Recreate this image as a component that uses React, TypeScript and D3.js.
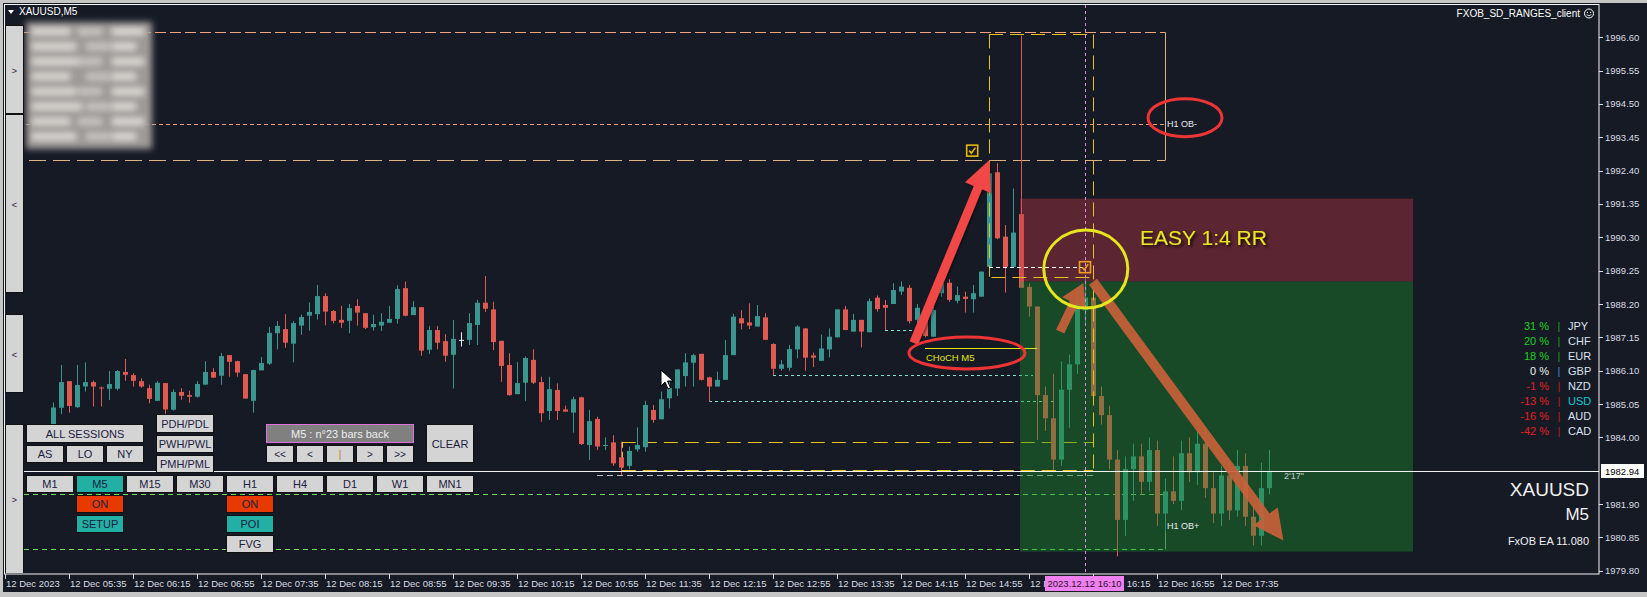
import React from 'react';
import * as d3 from 'd3';

const W = 1647;
const H = 597;

// ---------- DATA ----------
const priceTicks = [1996.6, 1995.55, 1994.5, 1993.45, 1992.4, 1991.35, 1990.3, 1989.25, 1988.2, 1987.15, 1986.1, 1985.05, 1984.0, 1981.9, 1980.85, 1979.8];
const timeLabels = ['12 Dec 2023', '12 Dec 05:35', '12 Dec 06:15', '12 Dec 06:55', '12 Dec 07:35', '12 Dec 08:15', '12 Dec 08:55', '12 Dec 09:35', '12 Dec 10:15', '12 Dec 10:55', '12 Dec 11:35', '12 Dec 12:15', '12 Dec 12:55', '12 Dec 13:35', '12 Dec 14:15', '12 Dec 14:55', '12 Dec 15:35', '12 Dec 16:15', '12 Dec 16:55', '12 Dec 17:35'];
const firstLabelBar = -5; // bar index of the "12 Dec 2023" label
const labelStep = 8;

// [open, high, low, close] for bars 1..153 (M5)
const candles: [number, number, number, number][] = [
  [1984.25, 1985.10, 1984.10, 1984.94], [1984.93, 1986.28, 1984.73, 1985.74], [1985.77, 1985.77, 1984.78, 1984.99], [1984.95, 1986.28, 1984.93, 1985.65],
  [1985.60, 1986.36, 1985.44, 1985.74], [1985.74, 1985.79, 1984.97, 1985.60], [1985.57, 1985.60, 1984.97, 1985.54], [1985.53, 1986.09, 1985.18, 1985.68],
  [1985.53, 1986.12, 1985.48, 1986.09], [1986.06, 1986.47, 1985.78, 1985.97], [1985.96, 1986.02, 1985.60, 1985.78], [1985.77, 1985.86, 1985.56, 1985.60],
  [1985.55, 1985.66, 1985.07, 1985.21], [1985.15, 1985.77, 1985.15, 1985.72], [1985.71, 1985.71, 1984.70, 1984.88], [1984.87, 1985.51, 1984.84, 1985.43],
  [1985.43, 1985.55, 1985.18, 1985.31], [1985.33, 1985.47, 1985.09, 1985.28], [1985.28, 1985.77, 1985.25, 1985.68], [1985.66, 1986.40, 1985.66, 1986.06],
  [1986.06, 1986.18, 1985.88, 1985.88], [1985.94, 1986.66, 1985.66, 1986.56], [1986.59, 1986.59, 1985.91, 1986.38], [1986.40, 1986.41, 1985.91, 1986.04],
  [1985.99, 1985.99, 1985.22, 1985.22], [1985.15, 1986.13, 1984.78, 1986.12], [1986.11, 1986.53, 1986.11, 1986.34], [1986.32, 1987.47, 1986.28, 1987.29],
  [1987.28, 1987.66, 1986.77, 1987.51], [1987.41, 1987.88, 1986.82, 1986.98], [1986.95, 1987.66, 1986.36, 1987.60], [1987.52, 1987.87, 1987.23, 1987.79],
  [1987.83, 1988.25, 1987.36, 1987.95], [1987.88, 1988.80, 1987.71, 1988.45], [1988.45, 1988.54, 1987.53, 1987.96], [1987.98, 1988.01, 1987.59, 1987.67],
  [1987.70, 1988.14, 1987.45, 1987.61], [1987.67, 1988.20, 1987.28, 1988.07], [1988.14, 1988.35, 1987.52, 1987.93], [1987.91, 1987.91, 1987.41, 1987.45],
  [1987.47, 1987.86, 1987.36, 1987.57], [1987.52, 1987.91, 1987.35, 1987.64], [1987.61, 1988.14, 1987.61, 1987.73], [1987.73, 1988.79, 1987.58, 1988.67],
  [1988.70, 1988.91, 1987.81, 1987.83], [1987.85, 1988.29, 1987.85, 1988.10], [1988.10, 1988.10, 1986.57, 1986.73], [1986.76, 1987.51, 1986.63, 1987.38],
  [1987.38, 1987.51, 1986.77, 1986.98], [1987.03, 1987.25, 1986.38, 1986.57], [1986.60, 1987.70, 1985.54, 1987.10], [1987.07, 1987.31, 1986.86, 1987.07],
  [1987.07, 1987.91, 1986.91, 1987.60], [1987.54, 1988.33, 1986.91, 1988.24], [1988.24, 1989.08, 1987.95, 1988.05], [1988.03, 1988.27, 1986.75, 1987.00],
  [1987.04, 1987.04, 1985.75, 1986.25], [1986.28, 1986.65, 1985.31, 1985.33], [1985.36, 1986.37, 1985.36, 1985.71], [1985.72, 1986.55, 1985.15, 1986.50],
  [1986.44, 1986.77, 1985.68, 1985.72], [1985.74, 1985.91, 1984.49, 1984.76], [1984.83, 1985.91, 1984.55, 1985.52], [1985.49, 1985.70, 1984.55, 1984.83],
  [1984.88, 1985.00, 1984.81, 1984.81], [1984.78, 1985.28, 1984.15, 1985.20], [1985.26, 1985.28, 1983.76, 1983.79], [1983.76, 1984.86, 1983.29, 1984.51],
  [1984.58, 1984.65, 1983.60, 1983.71], [1983.73, 1984.00, 1983.60, 1983.76], [1983.84, 1984.07, 1983.10, 1983.18], [1983.37, 1983.86, 1982.82, 1983.05],
  [1983.10, 1983.71, 1983.00, 1983.57], [1983.62, 1984.31, 1983.55, 1983.76], [1983.69, 1985.15, 1983.55, 1985.02], [1984.86, 1985.02, 1984.46, 1984.55],
  [1984.57, 1985.44, 1984.57, 1985.20], [1985.23, 1985.75, 1984.91, 1985.56], [1985.54, 1986.14, 1985.30, 1986.14], [1985.93, 1986.65, 1985.60, 1986.36],
  [1986.35, 1986.63, 1985.60, 1986.59], [1986.63, 1986.63, 1985.79, 1985.81], [1985.89, 1985.91, 1985.12, 1985.60], [1985.60, 1986.07, 1985.60, 1985.81],
  [1985.81, 1987.07, 1985.81, 1986.59], [1986.59, 1987.89, 1986.59, 1987.80], [1987.75, 1988.01, 1987.40, 1987.59], [1987.62, 1988.22, 1987.41, 1987.52],
  [1987.49, 1988.17, 1987.49, 1987.82], [1987.78, 1987.91, 1987.07, 1987.07], [1986.94, 1986.96, 1985.96, 1986.16], [1986.16, 1986.44, 1986.10, 1986.30],
  [1986.19, 1986.91, 1986.10, 1986.78], [1986.77, 1987.53, 1986.49, 1987.49], [1987.43, 1987.44, 1986.10, 1986.51], [1986.58, 1986.67, 1986.21, 1986.51],
  [1986.41, 1987.24, 1986.41, 1986.80], [1986.77, 1987.43, 1986.52, 1987.17], [1987.15, 1988.03, 1987.15, 1988.03], [1988.03, 1988.14, 1987.38, 1987.38],
  [1987.33, 1987.89, 1987.33, 1987.70], [1987.70, 1987.70, 1986.83, 1987.33], [1987.31, 1988.38, 1987.31, 1988.29], [1988.40, 1988.47, 1987.96, 1988.04],
  [1988.17, 1988.33, 1987.38, 1988.08], [1988.20, 1988.85, 1988.20, 1988.64], [1988.59, 1988.91, 1988.48, 1988.75], [1988.71, 1988.80, 1987.59, 1987.66],
  [1987.70, 1988.20, 1987.59, 1988.08], [1987.80, 1987.90, 1987.15, 1987.19], [1987.17, 1988.12, 1987.17, 1988.01], [1988.54, 1988.95, 1988.43, 1988.85],
  [1988.87, 1988.98, 1988.27, 1988.33], [1988.30, 1988.75, 1988.22, 1988.48], [1988.43, 1988.59, 1987.93, 1988.36], [1988.35, 1988.80, 1987.93, 1988.54],
  [1988.43, 1989.22, 1988.43, 1989.22], [1989.37, 1992.68, 1989.37, 1992.32], [1992.35, 1992.63, 1990.24, 1990.27], [1990.32, 1990.69, 1988.56, 1989.37],
  [1989.37, 1991.84, 1989.37, 1990.45], [1991.03, 1996.65, 1988.71, 1988.71], [1988.74, 1988.85, 1987.80, 1988.12], [1988.12, 1988.12, 1983.92, 1985.33],
  [1985.33, 1985.60, 1984.20, 1984.60], [1984.60, 1986.00, 1982.90, 1983.30], [1983.30, 1986.40, 1983.10, 1985.50], [1985.50, 1986.60, 1984.30, 1986.30],
  [1986.30, 1988.60, 1986.00, 1988.20], [1988.00, 1989.00, 1987.60, 1988.40], [1988.40, 1988.70, 1985.00, 1985.30], [1985.30, 1985.60, 1984.40, 1984.70],
  [1984.70, 1985.00, 1983.00, 1983.30], [1983.30, 1983.60, 1980.25, 1981.40], [1981.40, 1983.40, 1980.90, 1983.00], [1983.00, 1983.80, 1982.00, 1983.40],
  [1983.40, 1983.80, 1982.20, 1982.60], [1982.60, 1984.00, 1982.30, 1983.60], [1983.60, 1983.90, 1981.20, 1981.60], [1981.60, 1982.70, 1981.00, 1982.30],
  [1982.30, 1983.40, 1981.90, 1982.00], [1982.00, 1983.90, 1981.70, 1983.50], [1983.50, 1984.00, 1982.60, 1982.90], [1982.90, 1984.20, 1982.50, 1983.80],
  [1983.80, 1984.30, 1982.10, 1982.40], [1982.40, 1982.90, 1981.30, 1981.60], [1981.60, 1983.10, 1981.20, 1982.80], [1982.80, 1983.20, 1981.40, 1981.70],
  [1981.70, 1983.60, 1981.50, 1983.10], [1983.10, 1983.50, 1981.20, 1981.50], [1981.50, 1981.90, 1980.60, 1980.90], [1980.90, 1983.20, 1980.60, 1982.40],
  [1982.40, 1983.60, 1982.20, 1982.94],
];

const bidPrice = 1982.94;
const crosshairBar = 130;
const crosshairLabel = '2023.12.12 16:10';
const timerLabel = "2'17\"";

// indicator levels (prices)
const obSellTop = 1996.76, obSellMid = 1993.86, obSellBottom = 1992.72, obSellEndBar = 140;
const obBuyTop = 1982.21, obBuyBottom = 1980.47;
const poiTop = 1996.69, poiWhite = 1989.38, poiYellow = 1989.06, poiStartBar = 118, poiEndBar = 131;
const chochLevel = 1986.80, chochStart = 110, chochEnd = 124;
const cyanLevels: [number, number, number][] = [[1987.38, 105, 109.75], [1985.95, 91, 123.5], [1985.14, 83, 126]];
const lowBoxTop = 1983.86, lowBoxBottom = 1982.97, lowBoxStart = 72.1, grayLevel = 1982.81, grayStart = 69;
const slTop = 1991.52, entry = 1988.91, tpBottom = 1980.40, zoneStart = 122, zoneEnd = 171;

const currencies = ['JPY', 'CHF', 'EUR', 'GBP', 'NZD', 'USD', 'AUD', 'CAD'];
const strengths = [31, 20, 18, 0, -1, -13, -16, -42];

// annotation anchors (bar, price)
const redArrow = [108.6, 1986.97, 118.05, 1992.74];
const orangeArrow = [131.0, 1988.9, 154.8, 1980.75];
const orangeSmall = [126.9, 1987.33, 129.8, 1988.86];
const yellowCircle = [130.1, 1989.3];
const ellipseOB = [142.5, 1994.07];
const ellipseChoch = [115.25, 1986.66];
const checkA = [115.9, 1993.03];
const checkB = [130.0, 1989.36];

// ---------- STYLE ----------
const BG = '#161a25';
const BULL = '#3a968e';
const BEAR = '#e05a52';
const AX = '#d8dce4';
const FONT = "'Liberation Sans', Arial, sans-serif";

function arrowPoly(x1: number, y1: number, x2: number, y2: number, w: number, hl: number, hw: number) {
  const dx = x2 - x1, dy = y2 - y1, L = Math.hypot(dx, dy);
  const ux = dx / L, uy = dy / L, px = -uy, py = ux;
  const bx = x2 - ux * hl, by = y2 - uy * hl;
  const pts = [
    [x1 + px * w / 2, y1 + py * w / 2], [bx + px * w / 2, by + py * w / 2], [bx + px * hw / 2, by + py * hw / 2],
    [x2, y2], [bx - px * hw / 2, by - py * hw / 2], [bx - px * w / 2, by - py * w / 2], [x1 - px * w / 2, y1 - py * w / 2],
  ];
  return pts.map(p => p[0].toFixed(1) + ',' + p[1].toFixed(1)).join(' ');
}

function Btn({ x, y, w, h, label, fill = '#d4d4d4', color = '#1b2140', stroke = '#111', fs = 11 }: any) {
  return (
    <g>
      <rect x={x + 0.5} y={y + 0.5} width={w - 1} height={h - 1} fill={fill} stroke={stroke} />
      <text x={x + w / 2} y={y + h / 2 + 4} textAnchor="middle" fontSize={fs} fill={color}>{label}</text>
    </g>
  );
}

function Check({ cx, cy, color }: any) {
  return (
    <g>
      <rect x={cx - 5.5} y={cy - 5.5} width={11} height={11} fill="none" stroke={color} strokeWidth={1.6} />
      <path d={`M${cx - 3},${cy} L${cx - 0.8},${cy + 2.5} L${cx + 3.2},${cy - 3}`} fill="none" stroke={color} strokeWidth={1.6} />
    </g>
  );
}

export default function App() {
  const x = d3.scaleLinear().domain([0, 153]).range([45, 1269]);
  const y = d3.scaleLinear().domain([1979.8, 1996.6]).range([570.7, 37.3]);
  const L = 5, R = 1599, T = 5, B = 574;

  const hline = (p: number, x1: number, x2: number, color: string, dash?: string, sw = 1) => (
    <line x1={x1} x2={x2} y1={Math.round(y(p)) + 0.5} y2={Math.round(y(p)) + 0.5} stroke={color} strokeDasharray={dash} strokeWidth={sw} />
  );
  const vline = (xx: number, p1: number, p2: number, color: string, dash?: string) => (
    <line x1={Math.round(xx) + 0.5} x2={Math.round(xx) + 0.5} y1={y(p1)} y2={y(p2)} stroke={color} strokeDasharray={dash} />
  );

  const tfs = ['M1', 'M5', 'M15', 'M30', 'H1', 'H4', 'D1', 'W1', 'MN1'];
  const navs = ['<<', '<', '|', '>', '>>'];

  return (
    <svg width={W} height={H} style={{ position: 'fixed', left: 0, top: 0, display: 'block' }} fontFamily={FONT}>
      <defs>
        <clipPath id="plot"><rect x={L} y={T} width={R - L} height={B - T} /></clipPath>
        <filter id="blur" x="-10%" y="-10%" width="120%" height="120%"><feGaussianBlur stdDeviation="3" /></filter>
        <filter id="shadow" x="-10%" y="-30%" width="120%" height="160%"><feDropShadow dx="2" dy="2" stdDeviation="1.5" floodColor="#000" floodOpacity="0.8" /></filter>
        <filter id="soft" x="-10%" y="-10%" width="120%" height="120%"><feDropShadow dx="1" dy="1" stdDeviation="1.5" floodColor="#000" floodOpacity="0.6" /></filter>
      </defs>
      <rect width={W} height={H} fill="#c6c6c6" />
      <rect x={3} y={3} width={W - 3} height={589} fill={BG} />

      <g clipPath="url(#plot)">
        {/* H1 OB- box */}
        {hline(obSellTop, L, x(obSellEndBar), '#f3a27a', '11,4')}
        {hline(obSellMid, L, x(obSellEndBar), '#f39a70', '4,3')}
        {hline(obSellBottom, L, x(obSellEndBar), '#dcb27e', '17,7')}
        {vline(x(obSellEndBar), obSellTop, obSellBottom, '#dcb27e')}
        <text x={x(obSellEndBar) + 2} y={y(obSellMid) + 3} fontSize={9} fill="#e8ecf4">H1 OB-</text>

        {/* H1 OB+ box */}
        {hline(obBuyTop, 24, x(obSellEndBar), '#6fdc5e', '5,4')}
        {hline(obBuyBottom, 24, x(obSellEndBar), '#6fdc5e', '5,4')}
        {vline(x(obSellEndBar), obBuyTop, obBuyBottom, '#7fa88a')}

        {/* lower yellow box and gray line */}
        {hline(lowBoxTop, x(lowBoxStart), x(poiEndBar), '#e6c21a', '14,7')}
        {vline(x(lowBoxStart), lowBoxTop, lowBoxBottom, '#e6c21a', '6,4')}
        {hline(grayLevel, x(grayStart), x(poiEndBar), '#b8bcc4', '6,4')}

        {/* cyan swing levels */}
        {cyanLevels.map(([p, a, b], i) => <g key={'c' + i}>{hline(p, x(a), x(b), '#80e4d4', '3,3')}</g>)}

        {/* candles */}
        {candles.map(([o, h, l, c], i) => {
          const n = i + 1;
          const cx = Math.round(x(n));
          const col = o === c ? '#eeeeee' : c > o ? BULL : BEAR;
          const top = y(Math.max(o, c)), bot = y(Math.min(o, c));
          return (
            <g key={n}>
              <line x1={cx + 0.5} x2={cx + 0.5} y1={y(h)} y2={y(l)} stroke={col} />
              <rect x={cx - 2} y={top} width={5} height={Math.max(1, bot - top)} fill={col} />
            </g>
          );
        })}

        {/* SL / TP zones */}
        <rect x={x(zoneStart) - 1} y={y(slTop)} width={x(zoneEnd) - x(zoneStart) + 1} height={y(entry) - y(slTop)} fill="#c33644" opacity={0.4} />
        <rect x={x(zoneStart) - 1} y={y(entry)} width={x(zoneEnd) - x(zoneStart) + 1} height={y(tpBottom) - y(entry)} fill="#1e8c2e" opacity={0.42} />

        {/* POI box */}
        {hline(poiTop, x(poiStartBar), x(poiEndBar), '#e6c21a', '14,7')}
        {vline(x(poiStartBar), poiTop, poiYellow, '#e6c21a', '14,7')}
        {vline(x(poiEndBar), poiTop, lowBoxBottom, '#e6c21a', '14,7')}
        {hline(poiWhite, x(poiStartBar), x(129.75), '#f4f4f4', '4,3')}
        {hline(poiYellow, x(poiStartBar + 0.3), x(poiEndBar), '#e6c21a', '14,7')}
        {hline(lowBoxBottom, x(lowBoxStart), x(poiEndBar), '#e6c21a', '14,7')}

        {/* CHoCH */}
        {hline(chochLevel, x(chochStart), x(chochEnd), '#e4e41c')}
        <text x={x(chochStart) + 1} y={y(chochLevel) + 13} fontSize={9.5} fill="#e4e41c">CHoCH M5</text>

        {/* bid line and crosshair */}
        {hline(bidPrice, L, R, '#f2f2f2')}
        <line x1={x(crosshairBar) + 0.5} x2={x(crosshairBar) + 0.5} y1={T} y2={B} stroke="#e088e0" strokeDasharray="3,3" />
        <text x={x(153) + 15} y={y(bidPrice) + 8} fontSize={9} fill="#c8ccd4">{timerLabel}</text>
        <text x={x(obSellEndBar) + 2} y={y(1981.1)} fontSize={9} fill="#e8ecf4">H1 OB+</text>

        {/* checks */}
        <Check cx={x(checkA[0])} cy={y(checkA[1])} color="#e8b800" />
        <Check cx={x(checkB[0])} cy={y(checkB[1])} color="#f0a020" />

        {/* annotations */}
        <polygon points={arrowPoly(x(orangeSmall[0]), y(orangeSmall[1]), x(orangeSmall[2]), y(orangeSmall[3]), 9, 22, 26)} fill="#c8603a" opacity={0.92} />
        <polygon points={arrowPoly(x(orangeArrow[0]), y(orangeArrow[1]), x(orangeArrow[2]), y(orangeArrow[3]), 10, 30, 30)} fill="#c8603a" opacity={0.92} />
        <polygon points={arrowPoly(x(redArrow[0]), y(redArrow[1]), x(redArrow[2]), y(redArrow[3]), 9, 30, 28)} fill="#f24646" filter="url(#soft)" />
        <ellipse cx={x(yellowCircle[0])} cy={y(yellowCircle[1])} rx={42} ry={39} fill="none" stroke="#e6e61e" strokeWidth={3} />
        <ellipse cx={x(ellipseOB[0])} cy={y(ellipseOB[1])} rx={37} ry={19} fill="none" stroke="#ee3434" strokeWidth={3} />
        <ellipse cx={x(ellipseChoch[0])} cy={y(ellipseChoch[1])} rx={58} ry={16} fill="none" stroke="#ee3434" strokeWidth={3} />
        <text x={1140} y={y(1990.05)} fontSize={21} fill="#e8e81e" filter="url(#shadow)">EASY 1:4 RR</text>

        {/* mouse pointer */}
        <path d="M661,370 L661,386 L665,382 L668,389 L670.5,388 L667.5,381 L673,381 Z" fill="#fff" stroke="#000" strokeWidth={1} />
      </g>

      {/* censored info block */}
      <g filter="url(#blur)">
        <rect x={26} y={22} width={126} height={127} fill="#9e9a97" />
        {[0, 1, 2, 3, 4, 5, 6, 7].map(r => (
          <g key={r}>
            <rect x={32} y={28 + r * 15} width={38 + (r % 3) * 6} height={7} fill="#dcd8d4" />
            <rect x={78 + (r % 2) * 8} y={28 + r * 15} width={24} height={7} fill="#c9c5c1" />
            <rect x={112} y={28 + r * 15} width={32 - (r % 2) * 8} height={7} fill="#dedad6" />
          </g>
        ))}
      </g>

      {/* left vertical buttons */}
      <Btn x={5} y={25} w={19} h={89} label=">" fs={9} />
      <Btn x={5} y={114} w={19} h={179} label="<" fs={9} />
      <Btn x={5} y={314} w={19} h={79} label="<" fs={9} />
      <Btn x={5} y={424} w={19} h={150} label=">" fs={9} />

      {/* panel buttons */}
      <Btn x={26} y={424} w={118} h={19} label="ALL SESSIONS" />
      <Btn x={26} y={445} w={38} h={18} label="AS" />
      <Btn x={66} y={445} w={38} h={18} label="LO" />
      <Btn x={106} y={445} w={38} h={18} label="NY" />
      <Btn x={156} y={414} w={58} h={19} label="PDH/PDL" />
      <Btn x={156} y={435} w={58} h={18} label="PWH/PWL" />
      <Btn x={156} y={455} w={58} h={18} label="PMH/PML" />
      <Btn x={266} y={424} w={148} h={19} label="M5 : n°23 bars back" fill="#808080" color="#eeeeee" stroke="#e070e0" />
      {navs.map((t, i) => <Btn key={t} x={266 + i * 30} y={445} w={28} h={18} label={t} fs={10} color={t === '|' ? '#c07a20' : '#1b2140'} />)}
      <Btn x={426} y={424} w={48} h={39} label="CLEAR" />
      {tfs.map((t, i) => <Btn key={t} x={26 + i * 50} y={475} w={48} h={18} label={t} fill={t === 'M5' ? '#22b0a4' : '#d4d4d4'} />)}
      <Btn x={76} y={495} w={48} h={18} label="ON" fill="#e83a00" />
      <Btn x={76} y={515} w={48} h={18} label="SETUP" fill="#22b0a4" />
      <Btn x={226} y={495} w={48} h={18} label="ON" fill="#e83a00" />
      <Btn x={226} y={515} w={48} h={18} label="POI" fill="#22b0a4" />
      <Btn x={226} y={535} w={48} h={18} label="FVG" />

      {/* currency strength */}
      {currencies.map((c, i) => {
        const s = strengths[i];
        const col = s > 0 ? '#1ed21e' : s < 0 ? '#e42020' : '#f0f0f0';
        const bar = s > 0 ? '#1aa01a' : s < 0 ? '#b81c1c' : '#4a86c8';
        const yy = 330 + i * 15;
        return (
          <g key={c} fontSize={11}>
            <text x={1549} y={yy} textAnchor="end" fill={col}>{s} %</text>
            <text x={1559} y={yy} textAnchor="middle" fill={bar}>|</text>
            <text x={1568} y={yy} fill={c === 'USD' ? '#10c8d0' : '#d8e2f0'}>{c}</text>
          </g>
        );
      })}

      {/* symbol info */}
      <text x={1589} y={496} textAnchor="end" fontSize={19} fill="#f0f0f0">XAUUSD</text>
      <text x={1589} y={520} textAnchor="end" fontSize={17} fill="#f0f0f0">M5</text>
      <text x={1589} y={545} textAnchor="end" fontSize={11} fill="#f0f0f0">FxOB EA 11.080</text>

      {/* header */}
      <path d="M8,10 L14,10 L11,14 Z" fill="#fff" />
      <text x={19} y={15} fontSize={10} fill="#fff">XAUUSD,M5</text>
      <text x={1580} y={17} textAnchor="end" fontSize={10} fill="#fff">FXOB_SD_RANGES_client</text>
      <circle cx={1589} cy={13.5} r={4.5} fill="none" stroke="#fff" strokeWidth={1} />
      <circle cx={1587.4} cy={12.4} r={0.6} fill="#fff" />
      <circle cx={1590.6} cy={12.4} r={0.6} fill="#fff" />
      <path d="M1586.6,14.6 Q1589,17 1591.4,14.6" fill="none" stroke="#fff" strokeWidth={0.8} />

      {/* frame */}
      <rect x={4.5} y={4.5} width={R - 4.5} height={B - 4.5} fill="none" stroke="#f4f4f4" />

      {/* price axis */}
      {priceTicks.map(p => (
        <g key={p}>
          <line x1={R} x2={R + 4} y1={Math.round(y(p)) + 0.5} y2={Math.round(y(p)) + 0.5} stroke={AX} />
          <text x={R + 6} y={y(p) + 3.5} fontSize={9.5} fill={AX}>{p.toFixed(2)}</text>
        </g>
      ))}
      <rect x={R + 2} y={y(bidPrice) - 7} width={43} height={14} fill="#fff" />
      <text x={R + 6} y={y(bidPrice) + 3.5} fontSize={9.5} fill="#000">{bidPrice.toFixed(2)}</text>

      {/* time axis */}
      {timeLabels.map((t, k) => {
        const xx = Math.round(x(firstLabelBar + k * labelStep));
        return (
          <g key={t}>
            <line x1={xx + 0.5} x2={xx + 0.5} y1={B} y2={B + 5} stroke={AX} />
            <text x={xx + 1} y={587} fontSize={9.5} fill={AX}>{t}</text>
          </g>
        );
      })}
      <rect x={x(crosshairBar) - 40} y={576} width={79} height={15} fill="#f080f0" />
      <text x={x(crosshairBar) - 0.5} y={587} textAnchor="middle" fontSize={9.5} fill="#301030">{crosshairLabel}</text>
    </svg>
  );
}
